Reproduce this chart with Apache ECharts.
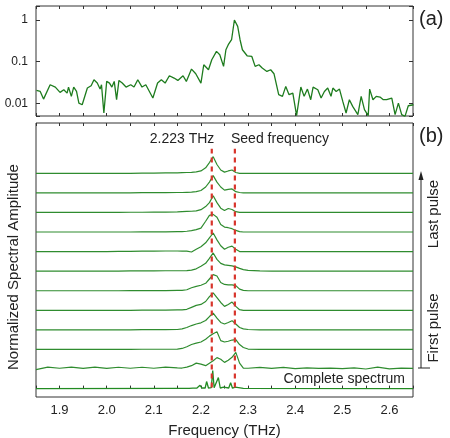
<!DOCTYPE html>
<html>
<head>
<meta charset="utf-8">
<script src="https://cdn.jsdelivr.net/npm/echarts@6/dist/echarts.min.js"></script>
<style>
html, body { margin: 0; padding: 0; background: #fff; }
#chart { width: 450px; height: 438px; }
</style>
</head>
<body>
<div id="chart"></div>
<script>
// (a) spectrum of the seed pulse, log scale
var freqA = [1.851, 1.859, 1.866, 1.880, 1.891, 1.901, 1.909, 1.916, 1.919, 1.925, 1.930, 1.936, 1.941, 1.948,
  1.959, 1.967, 1.973, 1.980, 1.986, 1.989, 1.994, 2.000, 2.006, 2.011, 2.016, 2.021, 2.026, 2.033, 2.041, 2.051,
  2.058, 2.066, 2.075, 2.083, 2.098, 2.108, 2.116, 2.124, 2.133, 2.143, 2.151, 2.162, 2.169, 2.180, 2.189, 2.200,
  2.206, 2.216, 2.223, 2.233, 2.240, 2.248, 2.253, 2.258, 2.265, 2.271, 2.278, 2.283, 2.288, 2.298, 2.308, 2.315,
  2.323, 2.330, 2.340, 2.348, 2.355, 2.365, 2.373, 2.380, 2.387, 2.395, 2.403, 2.412, 2.419, 2.426, 2.433, 2.438,
  2.448, 2.455, 2.462, 2.469, 2.476, 2.480, 2.487, 2.494, 2.501, 2.508, 2.515, 2.522, 2.533, 2.540, 2.547, 2.555,
  2.558, 2.565, 2.572, 2.580, 2.587, 2.594, 2.605, 2.612, 2.619, 2.626, 2.633, 2.640, 2.651]
var ampA = [0.0206, 0.0194, 0.0127, 0.0281, 0.0247, 0.0184, 0.0213, 0.0177, 0.0247, 0.0148, 0.0247, 0.0194, 0.0102, 0.0093,
  0.0234, 0.0266, 0.037, 0.0308, 0.0221, 0.0281, 0.0059, 0.0338, 0.0308, 0.0247, 0.0338, 0.0123, 0.0357, 0.0308, 0.0247, 0.0281,
  0.0247, 0.037, 0.0247, 0.0281, 0.0135, 0.0308, 0.037, 0.0308, 0.0462, 0.0406, 0.0357, 0.0462, 0.0338, 0.0667, 0.0516, 0.0308,
  0.0848, 0.0643, 0.1117, 0.177, 0.147, 0.0773, 0.194, 0.256, 0.337, 1.0, 0.703, 0.337, 0.194, 0.139, 0.134, 0.0773,
  0.0848, 0.0705, 0.0586, 0.0643, 0.0516, 0.0162, 0.0148, 0.0256, 0.0162, 0.0177, 0.0051, 0.0247, 0.0148, 0.0221, 0.0123, 0.0247,
  0.0213, 0.0135, 0.0194, 0.0234, 0.0148, 0.0234, 0.0194, 0.0221, 0.0112, 0.0059, 0.0123, 0.0085, 0.0054, 0.0148, 0.0071, 0.0051,
  0.0221, 0.0123, 0.0148, 0.0142, 0.0123, 0.0123, 0.0135, 0.0054, 0.0102, 0.0054, 0.0049, 0.0088, 0.0093]

// (b) normalized amplitude of each pulse, first pulse -> last pulse
var freqB = [1.85, 1.875, 1.90, 1.925, 1.95, 1.975, 2.00, 2.025, 2.05, 2.075, 2.10, 2.125, 2.15,
  2.16, 2.17, 2.18, 2.19, 2.20, 2.21, 2.218, 2.226, 2.234, 2.242, 2.25, 2.258, 2.266, 2.274, 2.282, 2.29,
  2.30, 2.325, 2.35, 2.375, 2.40, 2.425, 2.45, 2.475, 2.50, 2.525, 2.55, 2.575, 2.60, 2.625, 2.65]
var pulse1 = [-0.03, 0.1, 0.04, 0.1, 0.03, 0.1, 0.03, 0.09, 0.04, 0.09, 0.04, 0.1, 0.06,
  0.05, 0.1, 0.17, 0.3, 0.25, 0.17, 0.3, 0.42, 0.58, 0.5, 0.34, 0.45, 0.6, 0.85, 0.3, 0.04,
  0.04, 0.08, 0.03, 0.08, 0.02, 0.06, 0.03, 0.05, 0.02, 0.06, 0.0, 0.1, 0.01, 0.05, 0.03]
var pulse2 = [0, 0, 0, 0, 0, 0, 0, 0, 0, 0.01, 0.01, 0.01, 0.02,
  0.05, 0.14, 0.25, 0.32, 0.38, 0.52, 0.68, 0.8, 0.9, 0.45, 0.38, 0.42, 0.48, 0.5, 0.25, 0.1,
  0.02, 0, 0, 0, 0, 0, 0, 0, 0, 0, 0, 0, 0, 0, 0]
var pulse3 = [0, 0, 0, 0, 0, 0, 0, 0, 0, 0.01, 0.01, 0.01, 0.02,
  0.05, 0.12, 0.22, 0.3, 0.36, 0.48, 0.68, 0.85, 0.6, 0.38, 0.3, 0.38, 0.47, 0.3, 0.12, 0.05,
  0.02, 0, 0, 0, 0, 0, 0, 0, 0, 0, 0, 0, 0, 0, 0]
var pulse4 = [0, 0, 0, 0, 0, 0, 0, 0, 0, 0.01, 0.01, 0.01, 0.02,
  0.02, 0.05, 0.15, 0.25, 0.3, 0.45, 0.7, 0.89, 0.65, 0.4, 0.2, 0.3, 0.42, 0.2, 0.03, 0,
  0, 0, 0, 0, 0, 0, 0, 0, 0, 0, 0, 0, 0, 0, 0]
var pulse5 = [0, 0, 0, 0, 0, 0, 0, 0, 0.01, 0.01, 0.01, 0.01, 0.02,
  0.02, 0.05, 0.15, 0.22, 0.28, 0.38, 0.6, 0.82, 0.75, 0.42, 0.32, 0.3, 0.3, 0.26, 0.08, 0.02,
  0, 0, 0, 0, 0, 0, 0, 0, 0, 0, 0, 0, 0, 0, 0]
var pulse6 = [0, 0, 0, 0, 0, 0, 0, 0, 0.01, 0.01, 0.01, 0.02, 0.02,
  0.02, 0.03, 0.05, 0.12, 0.25, 0.4, 0.65, 0.93, 0.6, 0.4, 0.32, 0.3, 0.27, 0.22, 0.14, 0.08,
  0.04, 0.01, 0, 0, 0, 0, 0, 0, 0, 0, 0, 0, 0, 0, 0]
var pulse7 = [0, 0, 0, 0, 0, 0, 0, 0.01, 0.01, 0.02, 0.02, 0.03, 0.03,
  0.02, 0.02, -0.02, 0.12, 0.25, 0.45, 0.7, 0.95, 0.6, 0.3, 0.12, 0.22, 0.28, 0.12, 0, 0,
  0, 0, 0, 0, 0, 0, 0, 0, 0, 0, 0, 0, 0, 0, 0]
var pulse8 = [0, 0, 0, 0, 0, 0, 0, 0, 0, 0.01, 0.01, 0.01, 0.02,
  0.02, 0.04, 0.07, 0.12, 0.2, 0.55, 0.85, 0.9, 0.75, 0.38, 0.25, 0.22, 0.17, 0.08, 0.02, 0,
  0, 0, 0, 0, 0, 0, 0, 0, 0, 0, 0, 0, 0, 0, 0]
var pulse9 = [0, 0, 0, 0, 0, 0, 0, 0, 0.01, 0.01, 0.02, 0.02, 0.03,
  0.04, 0.05, 0.06, 0.08, 0.14, 0.3, 0.5, 0.85, 0.5, 0.22, 0.1, 0.2, 0.15, 0.04, 0, 0,
  0, 0, 0, 0, 0, 0, 0, 0, 0, 0, 0, 0, 0, 0, 0]
var pulse10 = [0, 0, 0, 0, 0, 0, 0, 0, 0, 0.01, 0.01, 0.01, 0.02,
  0.02, 0.03, 0.04, 0.06, 0.12, 0.3, 0.55, 0.88, 0.55, 0.3, 0.14, 0.18, 0.2, 0.06, 0.02, 0,
  0, 0, 0, 0, 0, 0, 0, 0, 0, 0, 0, 0, 0, 0, 0]
var pulse11 = [0, 0, 0, 0, 0, 0, 0, 0, 0, 0.01, 0.01, 0.02, 0.02,
  0.03, 0.04, 0.05, 0.07, 0.12, 0.28, 0.55, 0.85, 0.45, 0.17, 0.06, 0.12, 0.17, 0.04, 0, 0,
  0, 0, 0, 0, 0, 0, 0, 0, 0, 0, 0, 0, 0, 0, 0]
var pulses = [pulse1, pulse2, pulse3, pulse4, pulse5, pulse6, pulse7, pulse8, pulse9, pulse10, pulse11]

// complete spectrum (bottom trace)
var completeFreq = [1.85, 2.15, 2.175, 2.183, 2.187, 2.191, 2.194, 2.198, 2.202, 2.205, 2.209, 2.212, 2.216,
  2.219, 2.222, 2.225, 2.228, 2.232, 2.237, 2.241, 2.245, 2.248, 2.252, 2.259, 2.263, 2.267, 2.27, 2.273, 2.277, 2.29, 2.65]
var completeAmp = [0, 0.01, 0.01, 0.02, 0.06, 0.02, 0.04, 0.17, 0.03, 0.05, 0.03, 0.36, 0.03,
  0.08, 0.05, 0.92, 0.04, 0.06, 0.56, 0.03, 0.02, 0.07, 0.02, 0.03, 0.3, 0.02, 0.02, 0.07, 0.01, 0.01, 0]

var markFreqs = [2.223, 2.272]
var logTicks = [1, 0.1, 0.01]

var FONT = 'Liberation Sans, Arial, sans-serif'
var GREEN = '#2f8c2f'
var RED = '#d8352c'

var chart = echarts.init(document.getElementById('chart'))

function sameX(a, b) { return Math.abs(a - b) < 1e-6 }

var xBase = {
  type: 'value', min: 1.85, max: 2.65, interval: 0.05,
  axisLine: { show: false },
  axisTick: { show: true, inside: true, length: 3, lineStyle: { color: '#333' } },
  axisLabel: { show: false },
  splitLine: { show: false }
}

var series = []
// panel a
series.push({
  type: 'line', xAxisIndex: 0, yAxisIndex: 0,
  data: freqA.map(function (f, i) { return [f, ampA[i]] }),
  showSymbol: false, lineStyle: { color: '#1e7c1e', width: 1.3 }, silent: true
})
// panel b: complete spectrum at offset 0, then pulses stacked upward
series.push({
  type: 'line', xAxisIndex: 2, yAxisIndex: 2,
  data: completeFreq.map(function (f, i) { return [f, completeAmp[i]] }),
  showSymbol: false, lineStyle: { color: '#228b22', width: 1.3 }, silent: true
})
pulses.forEach(function (p, k) {
  series.push({
    type: 'line', xAxisIndex: 2, yAxisIndex: 2,
    data: freqB.map(function (f, i) { return [f, k + 1 + p[i]] }),
    showSymbol: false, lineStyle: { color: GREEN, width: 1.2 }, silent: true
  })
})
markFreqs.forEach(function (f) {
  series.push({
    type: 'line', xAxisIndex: 2, yAxisIndex: 2,
    data: [[f, 0.05], [f, 12.25]],
    showSymbol: false, lineStyle: { color: RED, width: 2.2, type: [5, 4] }, silent: true, z: 5
  })
})

var option = {
  animation: false,
  backgroundColor: '#fff',
  textStyle: { fontFamily: FONT },
  grid: [
    { left: 36, top: 6, width: 377, height: 110, show: true, borderColor: '#333', borderWidth: 1, outerBoundsMode: 'none' },
    { left: 36, top: 123, width: 377, height: 274, show: true, borderColor: '#333', borderWidth: 1, outerBoundsMode: 'none' }
  ],
  xAxis: [
    Object.assign({}, xBase, { gridIndex: 0, position: 'bottom' }),
    Object.assign({}, xBase, { gridIndex: 0, position: 'top' }),
    Object.assign({}, xBase, {
      gridIndex: 1, position: 'bottom',
      axisLabel: {
        show: true, fontSize: 13, color: '#222', margin: 7, fontFamily: FONT,
        formatter: function (v) {
          var t = v * 10
          return sameX(t, Math.round(t)) ? v.toFixed(1) : ''
        }
      },
      name: 'Frequency (THz)', nameLocation: 'middle', nameGap: 26,
      nameTextStyle: { fontSize: 15, color: '#222', fontFamily: FONT }
    }),
    Object.assign({}, xBase, { gridIndex: 1, position: 'top' })
  ],
  yAxis: [
    {
      type: 'log', gridIndex: 0, position: 'left', min: 0.005, max: 2.17, logBase: 10,
      axisLine: { show: false },
      axisTick: { show: true, inside: true, length: 4, lineStyle: { color: '#333' } },
      axisLabel: {
        fontSize: 12, color: '#222', margin: 8, fontFamily: FONT,
        formatter: function (v) {
          for (var i = 0; i < logTicks.length; i++) {
            if (Math.abs(v - logTicks[i]) < logTicks[i] * 1e-4) return String(logTicks[i])
          }
          return ''
        }
      },
      splitLine: { show: false }
    },
    {
      type: 'log', gridIndex: 0, position: 'right', min: 0.005, max: 2.17, logBase: 10,
      axisLine: { show: false },
      axisTick: { show: true, inside: true, length: 4, lineStyle: { color: '#333' } },
      axisLabel: { show: false },
      splitLine: { show: false }
    },
    {
      type: 'value', gridIndex: 1, min: -0.43, max: 13.57,
      axisLine: { show: false }, axisTick: { show: false }, axisLabel: { show: false },
      splitLine: { show: false }
    }
  ],
  series: series,
  graphic: [
    { type: 'text', left: 419, top: 9, style: { text: '(a)', fontSize: 20, fill: '#222', font: '20px ' + FONT } },
    { type: 'text', left: 419, top: 126, style: { text: '(b)', fontSize: 20, fill: '#222', font: '20px ' + FONT } },
    { type: 'text', x: 182, y: 139, style: { text: '2.223 THz', font: '14px ' + FONT, fill: '#222', align: 'center', verticalAlign: 'middle' } },
    { type: 'text', x: 231, y: 139, style: { text: 'Seed frequency', font: '14px ' + FONT, fill: '#222', align: 'left', verticalAlign: 'middle' } },
    { type: 'text', x: 405, y: 379, style: { text: 'Complete spectrum', font: '14px ' + FONT, fill: '#222', align: 'right', verticalAlign: 'middle' } },
    { type: 'text', x: 14, y: 267, rotation: Math.PI / 2, style: { text: 'Normalized Spectral Amplitude', font: '15px ' + FONT, fill: '#222', align: 'center', verticalAlign: 'middle' } },
    { type: 'text', x: 434, y: 214, rotation: Math.PI / 2, style: { text: 'Last pulse', font: '15px ' + FONT, fill: '#222', align: 'center', verticalAlign: 'middle' } },
    { type: 'text', x: 434, y: 328, rotation: Math.PI / 2, style: { text: 'First pulse', font: '15px ' + FONT, fill: '#222', align: 'center', verticalAlign: 'middle' } },
    { type: 'line', shape: { x1: 421, y1: 368, x2: 421, y2: 178 }, style: { stroke: '#222', lineWidth: 1 } },
    { type: 'line', shape: { x1: 418, y1: 368, x2: 430, y2: 368 }, style: { stroke: '#222', lineWidth: 1 } },
    { type: 'polygon', shape: { points: [[421, 171], [418.5, 180], [423.5, 180]] }, style: { fill: '#222' } }
  ]
}

chart.setOption(option)
</script>
</body>
</html>
